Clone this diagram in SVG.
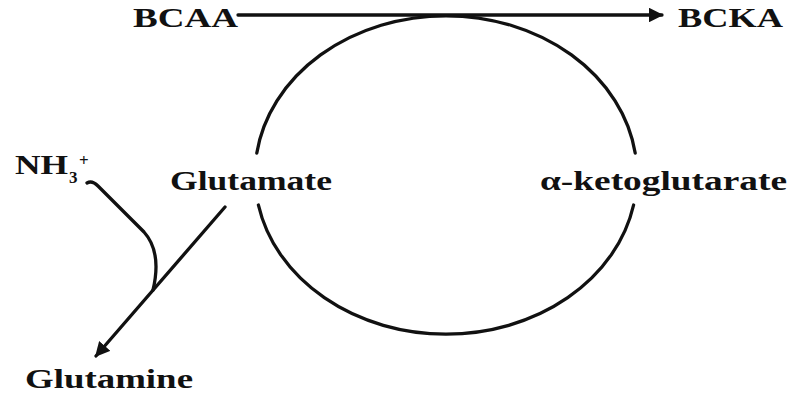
<svg xmlns="http://www.w3.org/2000/svg" width="798" height="399" viewBox="0 0 798 399">
<defs>
<style>
.t{font-family:"Liberation Serif","Times New Roman",serif;font-weight:bold;font-size:28px;fill:#111}
.s{font-family:"Liberation Serif","Times New Roman",serif;font-weight:bold;font-size:17px;fill:#111}
.ln{fill:none;stroke:#111;stroke-width:3.3;stroke-linecap:round}
</style>
<marker id="ah" viewBox="0 0 10 10" refX="9" refY="5" markerWidth="4.5" markerHeight="4.5" orient="auto" markerUnits="strokeWidth">
<path d="M0,0 L10,5 L0,10 z" fill="#111"/>
</marker>
</defs>
<rect width="798" height="399" fill="#fff"/>
<g id="connectors">
<path class="ln" d="M256.8 153 A191 159 0 0 1 635.2 153"/>
<path class="ln" d="M633.6 205 A191 159 0 0 1 258.4 205"/>
<line class="ln" x1="238" y1="15" x2="662" y2="15" marker-end="url(#ah)"/>
<path class="ln" d="M225 207 L96 356" marker-end="url(#ah)"/>
<path class="ln" d="M87 183 Q92 180 98 186 L144 232 Q162 252 153 290"/>
</g>
<g id="BCAA"><text class="t" x="133" y="27" textLength="105" lengthAdjust="spacingAndGlyphs">BCAA</text></g>
<g id="BCKA"><text class="t" x="678" y="27" textLength="105" lengthAdjust="spacingAndGlyphs">BCKA</text></g>
<g id="Glutamate"><text class="t" x="170" y="190" textLength="162" lengthAdjust="spacingAndGlyphs">Glutamate</text></g>
<g id="aKG"><text class="t" x="540" y="190" textLength="247" lengthAdjust="spacingAndGlyphs">α-ketoglutarate</text></g>
<g id="NH3"><text class="t" x="15" y="174" textLength="53" lengthAdjust="spacingAndGlyphs">NH</text><text class="s" x="69" y="183">3</text><text class="s" x="79" y="166">+</text></g>
<g id="Glutamine"><text class="t" x="25" y="388" textLength="168" lengthAdjust="spacingAndGlyphs">Glutamine</text></g>
</svg>
